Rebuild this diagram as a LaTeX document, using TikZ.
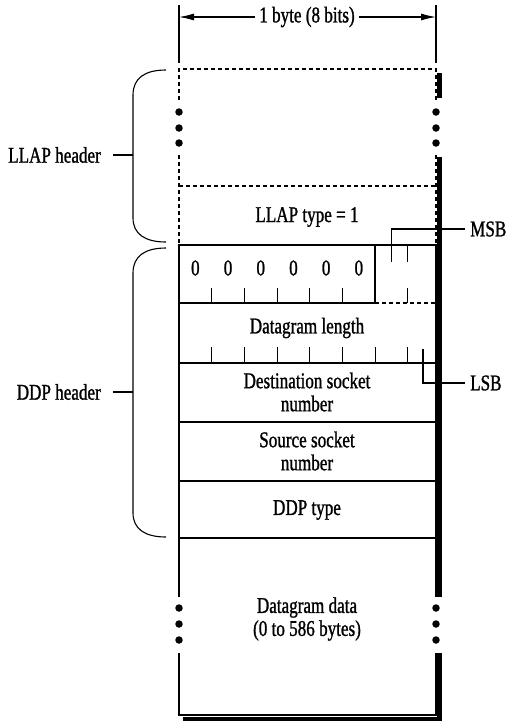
\documentclass[tikz,border=0pt]{standalone}
\usepackage{fontspec}
\setmainfont{Liberation Serif}[FakeStretch=0.76,FakeBold=1.1]
\usetikzlibrary{arrows.meta,positioning}

\begin{document}
\begin{tikzpicture}[x=1pt,y=-1pt]
    \tikzstyle{txt} = [font=\fontsize{22.5}{23}\selectfont, align=center, inner sep=0pt];
    \tikzstyle{hdr} = [txt, anchor=east, inner xsep=12pt];
    \tikzstyle{bitlabel} = [txt, anchor=west, inner xsep=5pt];
    \tikzstyle{frame} = [line width=2.2pt];
    \tikzstyle{thin} = [line width=1.1pt];
    \tikzstyle{dashline} = [line width=1.1pt, dash pattern=on 4pt off 3pt];
    \tikzstyle{shadow} = [line width=4.5pt];
    \tikzstyle{dot} = [shape=circle, fill=black, inner sep=0pt, minimum size=7.5pt];

    \useasboundingbox (0,0) rectangle (516,721);

    % one byte across
    \coordinate (bl) at (179,17);
    \coordinate (br) at (436,17);
    \draw[thin] (179,5) -- (179,63) (436,5) -- (436,63);
    \node[txt, inner xsep=4pt] (byte) at (307,17) {1 byte (8 bits)};
    \draw[-{Latex[length=15pt,width=7pt]}, thin]
        (byte) edge (bl)
        (byte) edge (br)
    ;

    % LLAP header
    \draw[dashline] (179,100) -- (179,69) -- (436,69) -- (436,100);
    \draw[dashline] (179,155) -- (179,245) (436,155) -- (436,245);
    \draw[dashline] (179,186) -- (436,186);
    \foreach \y in {112,128,143} {
        \node[dot] (ltop\y) at (179,\y) {};
        \node[dot] (rtop\y) at (436,\y) {};
    }
    \node[txt] (llaptype) at (307,217) {LLAP type = 1};

    % DDP header
    \draw[frame] (179,245) rectangle (436,538);
    \draw[frame] (375.2,245) -- (375.2,303) -- (179,303);
    \draw[dashline] (375.2,303) -- (436,303);
    \draw[frame] (179,363) -- (436,363) (179,422) -- (436,422) (179,481) -- (436,481);

    \foreach \i in {0,...,5}
        \node[txt] (zero\i) at ({179+32.7*(\i+0.5)},268) {0};
    \foreach \i in {1,...,5,7}
        \draw[thin] ({179+32.7*\i},288) -- ({179+32.7*\i},303);
    \draw[thin] (407.9,245) -- (407.9,262);
    \foreach \i in {1,...,7}
        \draw[thin] ({179+32.7*\i},347) -- ({179+32.7*\i},363);

    \coordinate (msbbit) at (391.6,262);
    \coordinate (lsbbit) at (423,349);
    \node[bitlabel] (msb) at (465,229) {MSB};
    \node[bitlabel] (lsb) at (465,383) {LSB};
    \draw[thin] (msbbit) |- (msb);
    \draw[thin] (lsbbit) |- (lsb);

    \node[txt] (dglen) at (307,328) {Datagram length};
    \node[txt] (dstsock) at (307,392) {Destination socket\\number};
    \node[txt] (srcsock) at (307,451) {Source socket\\number};
    \node[txt] (ddptype) at (307,510) {DDP type};

    % datagram data
    \draw[thin] (179,538) -- (179,597) (179,653) -- (179,715) -- (436,715) -- (436,653) (436,597) -- (436,538);
    \foreach \y in {608,624,640} {
        \node[dot] (lbot\y) at (179,\y) {};
        \node[dot] (rbot\y) at (436,\y) {};
    }
    \node[txt] (data) at (307,619) {Datagram data\\(0 to 586 bytes)};

    % shadow on the right and bottom
    \draw[shadow] (439.5,73) -- (439.5,98) (439.5,157) -- (439.5,597) (439.5,653) -- (439.5,719) -- (183,719);

    % brackets
    \draw[thin] (166,70) .. controls (145,70) and (133,78) .. (133,95) -- (133,218)
        .. controls (133,234) and (145,242) .. (166,242);
    \draw[thin] (166,248) .. controls (145,248) and (133,256) .. (133,273) -- (133,513)
        .. controls (133,529) and (145,537) .. (166,537);
    \coordinate (llaptip) at (133,155);
    \coordinate (ddptip) at (133,392);
    \node[hdr] (llaphdr) at (113,155) {LLAP header};
    \node[hdr] (ddphdr) at (113,392) {DDP header};
    \draw[thin] (llaptip) -- (llaphdr);
    \draw[thin] (ddptip) -- (ddphdr);
\end{tikzpicture}
\end{document}
